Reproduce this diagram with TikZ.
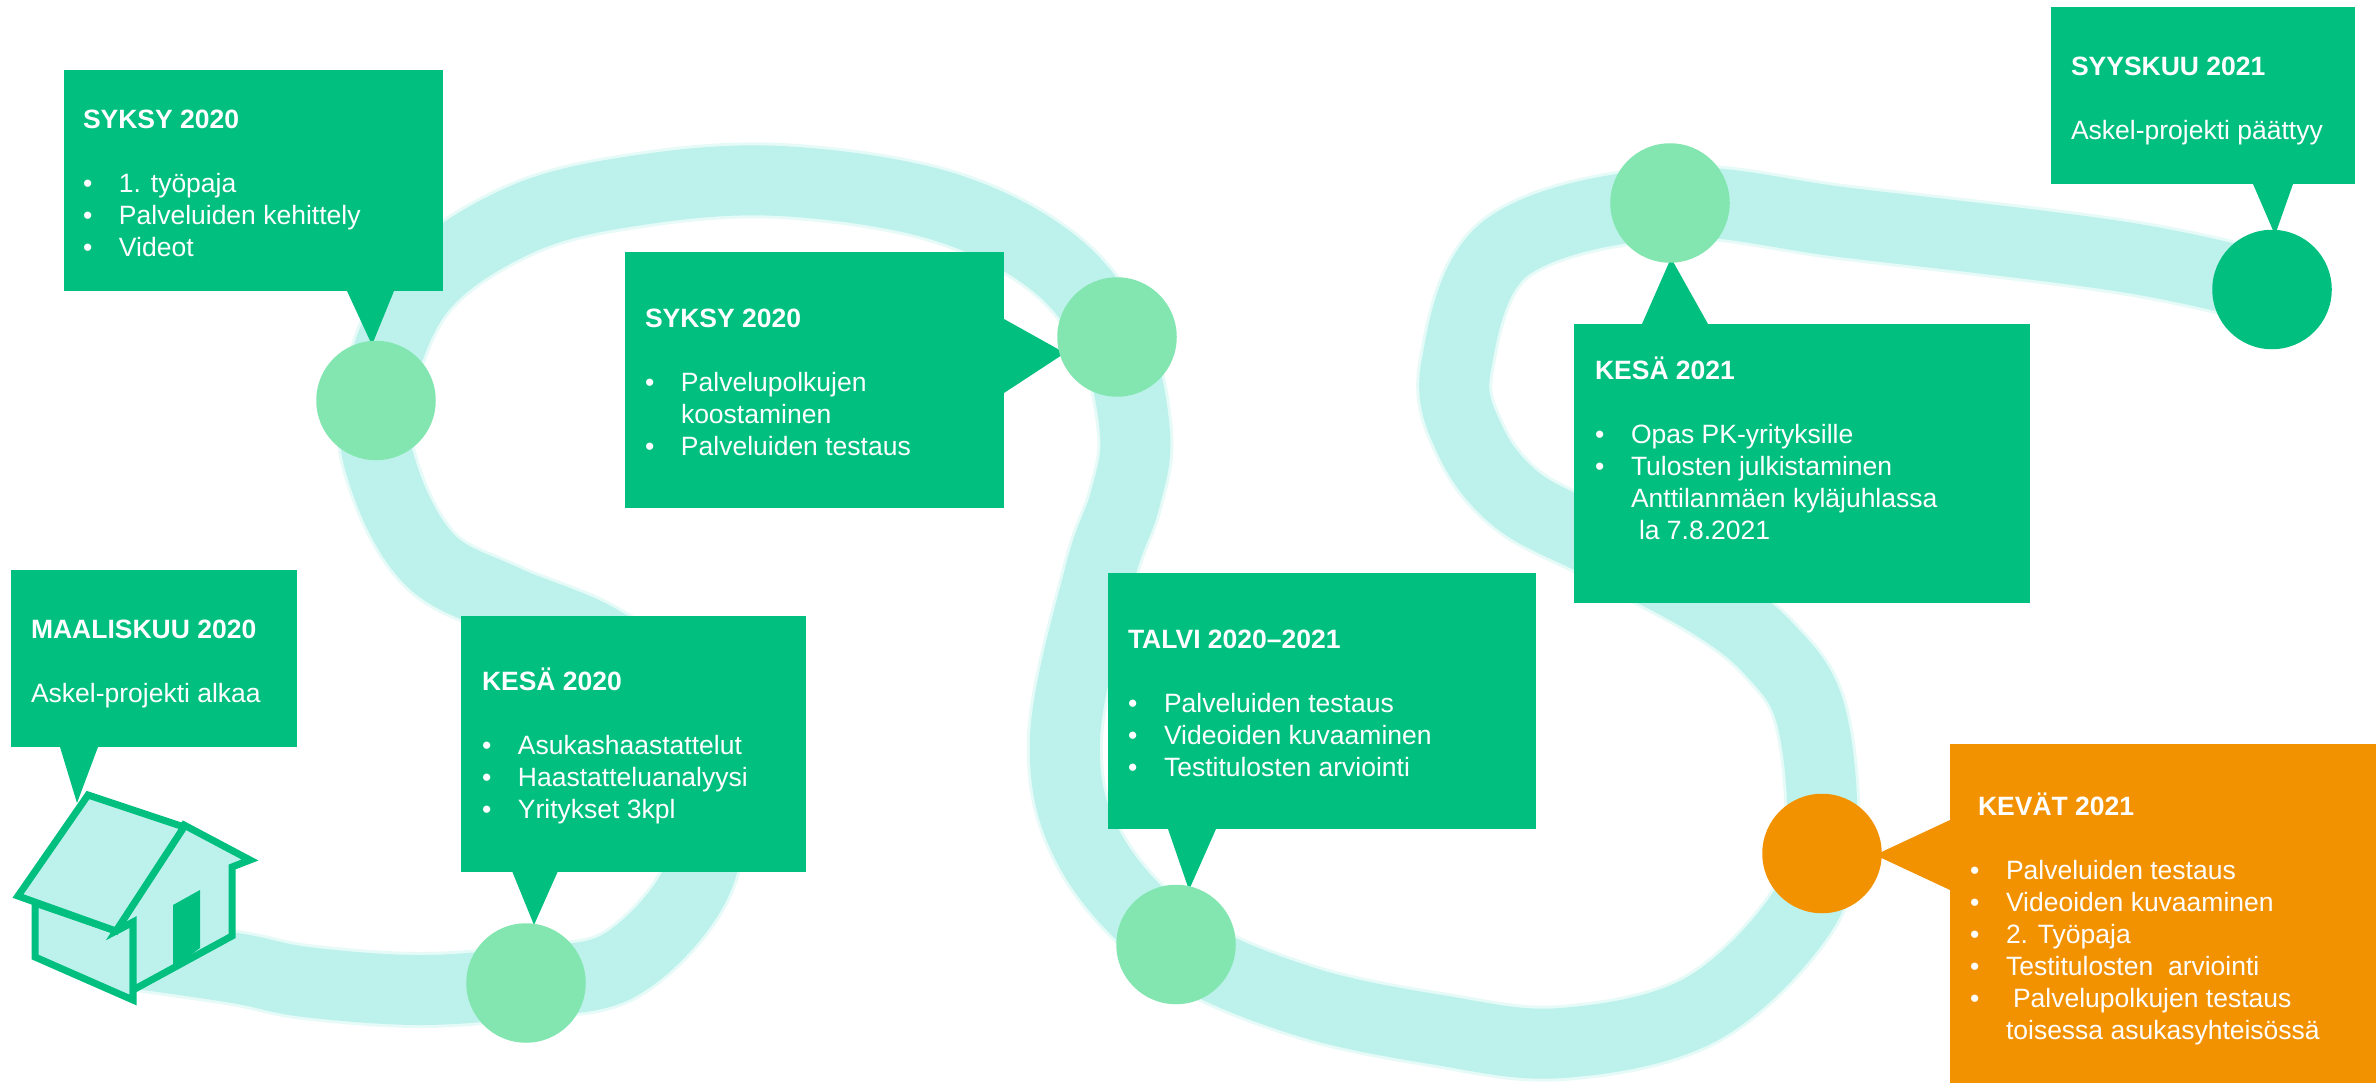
\documentclass[tikz,border=0pt]{standalone}
\usepackage{fontspec}
\setmainfont{Liberation Sans}
\definecolor{gbox}{HTML}{00BF7F}
\definecolor{gpale}{HTML}{83E6B1}
\definecolor{oran}{HTML}{F39200}
\definecolor{bandc}{HTML}{BDF2EC}
\definecolor{bandsoft}{HTML}{E6FAF8}
\newcommand{\bl}[1]{\makebox[36pt][l]{•}#1}
\newcommand{\ttl}[1]{\strut\textbf{#1}}
\tikzset{
  x=1pt,y=-1pt,
  calloutbox/.style={anchor=north west,inner sep=0pt,outer sep=0pt,fill=gbox},
  dot/.style={circle,inner sep=0pt,outer sep=0pt,minimum size=119.5pt},
  boxtext/.style={anchor=north west,inner sep=0pt,outer sep=0pt,align=left,text=white,
    font=\fontsize{26.5pt}{32pt}\selectfont},
  band/.style={line cap=round,line join=round,color=bandc,line width=70pt},
  bandedge/.style={line cap=round,line join=round,color=bandsoft,line width=76pt},
  housefill/.style={fill=bandc,draw=gbox,line width=7pt,line join=miter}
}
\def\bandpath{plot[smooth,tension=0.6] coordinates {(110,950) (235,968) (306,982) (420,990) (526,982) (620,965) (695,885) (708,790) (675,700) (600,640) (505,600) (430,560) (385,480) (376,400) (420,290) (520,220) (640,190) (780,181) (938,205) (1050,260) (1112,337) (1135,433) (1125,500) (1100,573) (1065,738) (1090,850) (1176,944) (1300,1000) (1439,1030) (1562,1043) (1700,1010) (1800,915) (1822,830) (1810,712) (1770,650) (1710,603) (1600,544) (1517,500) (1470,440) (1456,367) (1506,248) (1671,203) (1849,223) (2124,257) (2272,289)}}
\begin{document}
\begin{tikzpicture}
\useasboundingbox (0,0) rectangle (2376,1083);
% winding road
\draw[bandedge] \bandpath;
\draw[band] \bandpath;
% house
\draw[housefill] (35,903) -- (35,957) -- (133,1000) -- (133,922) -- (116,931) -- cycle;
\draw[housefill] (133,990) -- (232,936) -- (232,867) -- (250,860) -- (184,825) -- (116,931) -- (133,922) -- cycle;
\draw[housefill] (88,795) -- (184,827) -- (116,931) -- (18,896) -- cycle;
\fill[gbox] (173,905) -- (200,890) -- (200,948) -- (173,968) -- cycle;
% pointers
\fill[gbox] (60,747) -- (98,747) -- (77,803) -- cycle;
\fill[gbox] (512,871) -- (558,871) -- (534,925) -- cycle;
\fill[gbox] (347,291) -- (394,291) -- (372,345) -- cycle;
\fill[gbox] (1004,319) -- (1004,393) -- (1065,353) -- cycle;
\fill[gbox] (1168,829) -- (1216,829) -- (1189,890) -- cycle;
\fill[oran] (1950,820) -- (1950,890) -- (1875,855) -- cycle;
\fill[gbox] (1642,324) -- (1708,324) -- (1671,258) -- cycle;
\fill[gbox] (2253,184) -- (2293,184) -- (2275,235) -- cycle;
% boxes
\node[calloutbox,minimum width=286pt,minimum height=177pt] (b1) at (11,570) {};
\node[calloutbox,minimum width=345pt,minimum height=256pt] (b2) at (461,615.5) {};
\node[calloutbox,minimum width=379pt,minimum height=221pt] (b3) at (64,70) {};
\node[calloutbox,minimum width=379pt,minimum height=256pt] (b4) at (625,252) {};
\node[calloutbox,minimum width=428pt,minimum height=256pt] (b5) at (1108,573) {};
\node[calloutbox,fill=oran,minimum width=426pt,minimum height=340pt] (b6) at (1950,743.5) {};
\node[calloutbox,minimum width=456pt,minimum height=279pt] (b7) at (1574,324) {};
\node[calloutbox,minimum width=304pt,minimum height=177pt] (b8) at (2051,7) {};
% dots
\node[dot,fill=gpale] (d2) at (526,983) {};
\node[dot,fill=gpale] (d3) at (376,400.5) {};
\node[dot,fill=gpale] (d4) at (1117,337) {};
\node[dot,fill=gpale] (d5) at (1176,944.5) {};
\node[dot,fill=oran] (d6) at (1822,853.5) {};
\node[dot,fill=gpale] (d7) at (1670,203) {};
\node[dot,fill=gbox] (d8) at (2272,289.5) {};
% texts
\node[boxtext] (t1) at (31,616) {\ttl{MAALISKUU 2020}\\\\Askel-projekti alkaa};
\node[boxtext] (t2) at (482,668) {\ttl{KESÄ 2020}\\\\\bl{Asukashaastattelut}\\\bl{Haastatteluanalyysi}\\\bl{Yritykset 3kpl}};
\node[boxtext] (t3) at (83,106) {\ttl{SYKSY 2020}\\\\\bl{1. työpaja}\\\bl{Palveluiden kehittely}\\\bl{Videot}};
\node[boxtext] (t4) at (645,305) {\ttl{SYKSY 2020}\\\\\bl{Palvelupolkujen}\\\hspace*{36pt}koostaminen\\\bl{Palveluiden testaus}};
\node[boxtext] (t5) at (1128,626) {\ttl{TALVI 2020–2021}\\\\\bl{Palveluiden testaus}\\\bl{Videoiden kuvaaminen}\\\bl{Testitulosten arviointi}};
\node[boxtext] (t6) at (1970,793) {\hspace*{8pt}\ttl{KEVÄT 2021}\\\\\bl{Palveluiden testaus}\\\bl{Videoiden kuvaaminen}\\\bl{2. Työpaja}\\\bl{Testitulosten\ \ arviointi}\\\bl{\hspace*{7pt}Palvelupolkujen testaus}\\\hspace*{36pt}toisessa asukasyhteisössä};
\node[boxtext] (t7) at (1595,357) {\ttl{KESÄ 2021}\\\\\bl{Opas PK-yrityksille}\\\bl{Tulosten julkistaminen}\\\hspace*{36pt}Anttilanmäen kyläjuhlassa\\\hspace*{44pt}la 7.8.2021};
\node[boxtext] (t8) at (2071,53) {\ttl{SYYSKUU 2021}\\\\Askel-projekti päättyy};
\end{tikzpicture}
\end{document}
